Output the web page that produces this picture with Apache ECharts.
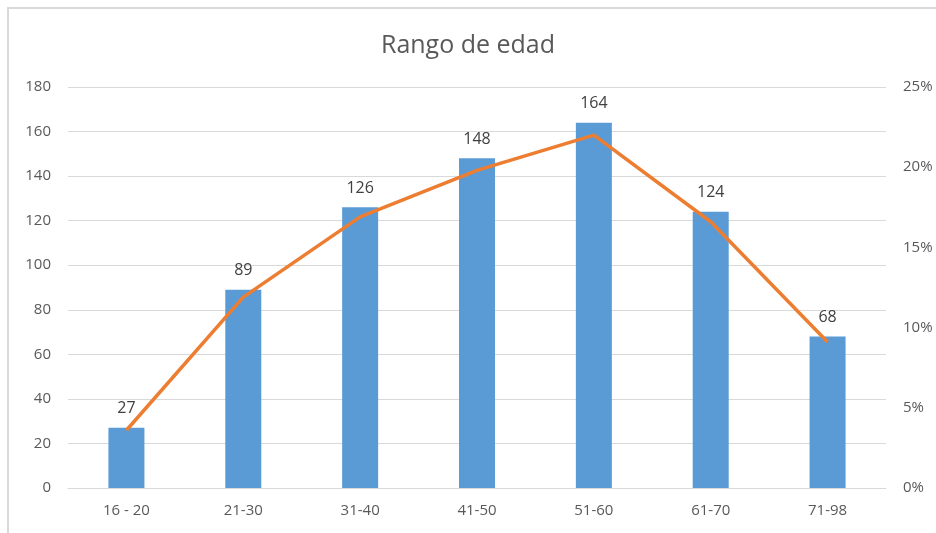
<!DOCTYPE html>
<html>
<head>
<meta charset="utf-8">
<title>Rango de edad</title>
<script src="https://cdn.jsdelivr.net/npm/echarts@6/dist/echarts.min.js"></script>
<style>
  html, body { margin: 0; padding: 0; background: #fff; overflow: hidden; }
  #frame { position: absolute; left: 7px; top: 7px; width: 1000px; height: 600px;
           border-left: 2px solid #d9d9d9; border-top: 2px solid #d9d9d9; }
  #main { position: absolute; left: 0; top: 0; width: 936px; height: 533px; }
</style>
</head>
<body>
<div id="frame"></div>
<div id="main"></div>
<script type="text/javascript">
	var categories = ['16 - 20', '21-30', '31-40', '41-50', '51-60', '61-70', '71-98'];
	var counts = [27, 89, 126, 148, 164, 124, 68];
	var percents = [3.6, 11.9, 16.9, 19.8, 22.0, 16.6, 9.1];

	var font = 'Open Sans';
	var txt = '#595959';
	var myChart = echarts.init(document.getElementById('main'));
	var option = {
		animation: false,
		title: {
			text: 'Rango de edad',
			left: 'center',
			top: 28,
			textStyle: { fontFamily: font, fontSize: 25, fontWeight: 'normal', color: txt }
		},
		grid: { left: 68, right: 50, top: 87, bottom: 45 },
		xAxis: {
			type: 'category',
			data: categories,
			axisLine: { lineStyle: { color: '#d9d9d9' } },
			axisTick: { show: false },
			axisLabel: { fontFamily: font, fontSize: 15, color: txt, margin: 15 }
		},
		yAxis: [{
			type: 'value',
			min: 0, max: 180, interval: 20,
			axisLabel: { fontFamily: font, fontSize: 15, color: txt, margin: 17 },
			splitLine: { lineStyle: { color: '#d9d9d9' } }
		}, {
			type: 'value',
			min: 0, max: 25, interval: 5,
			axisLabel: { fontFamily: font, fontSize: 15, color: txt, margin: 17, formatter: '{value}%' },
			splitLine: { show: false }
		}],
		series: [{
			type: 'bar',
			data: counts,
			barWidth: 36,
			itemStyle: { color: '#5b9bd5' },
			label: { show: true, position: 'top', distance: 11, fontFamily: font, fontSize: 16, color: '#404040' }
		}, {
			type: 'line',
			yAxisIndex: 1,
			data: percents,
			symbol: 'none',
			lineStyle: { color: '#ed7d31', width: 3.5 },
			z: 5
		}]
	};
	myChart.setOption(option);
</script>
</body>
</html>
